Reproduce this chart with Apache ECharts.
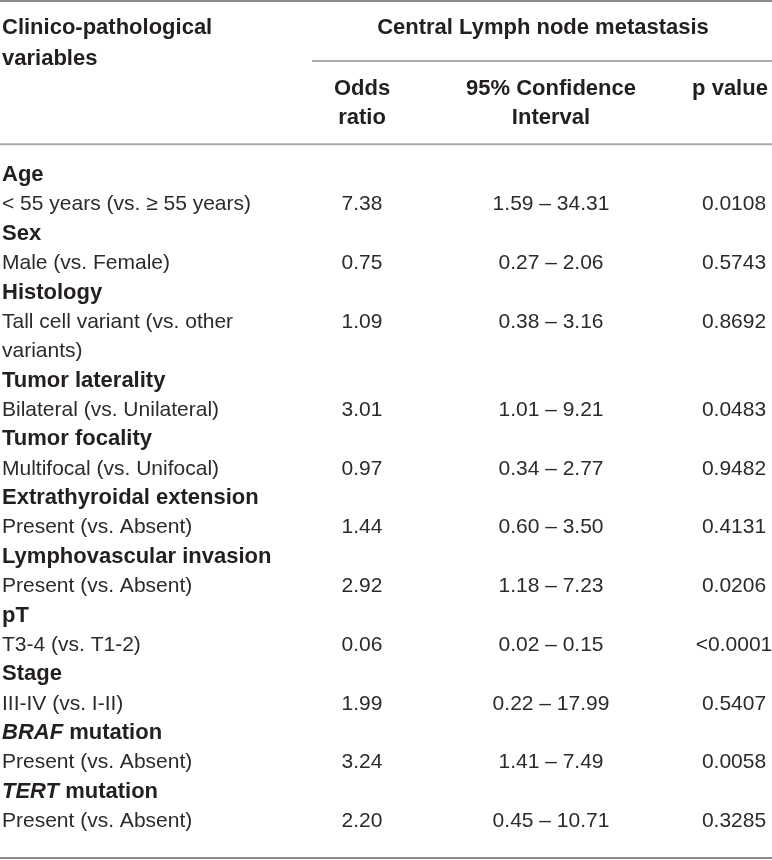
<!DOCTYPE html>
<html style="height: 100%">

<head>
  <meta charset="utf-8">
</head>

<body style="height: 100%; margin: 0; background: #ffffff">
  <div id="container" style="width: 772px; height: 860px"></div>
  <script type="text/javascript" src="https://cdn.jsdelivr.net/npm/echarts@6/dist/echarts.min.js"></script>
  <script type="text/javascript">
    // table content
    var groups = ['Age', 'Sex', 'Histology', 'Tumor laterality', 'Tumor focality',
      'Extrathyroidal extension', 'Lymphovascular invasion', 'pT', 'Stage',
      'BRAF mutation', 'TERT mutation'];
    var comparisons = ['< 55 years (vs. \u2265 55 years)', 'Male (vs. Female)',
      'Tall cell variant (vs. other\nvariants)', 'Bilateral (vs. Unilateral)',
      'Multifocal (vs. Unifocal)', 'Present (vs. Absent)', 'Present (vs. Absent)',
      'T3-4 (vs. T1-2)', 'III-IV (vs. I-II)', 'Present (vs. Absent)', 'Present (vs. Absent)'];
    var oddsRatios = ['7.38', '0.75', '1.09', '3.01', '0.97', '1.44', '2.92', '0.06', '1.99', '3.24', '2.20'];
    var ciLow = ['1.59', '0.27', '0.38', '1.01', '0.34', '0.60', '1.18', '0.02', '0.22', '1.41', '0.45'];
    var ciHigh = ['34.31', '2.06', '3.16', '9.21', '2.77', '3.50', '7.23', '0.15', '17.99', '7.49', '10.71'];
    var pValues = ['0.0108', '0.5743', '0.8692', '0.0483', '0.9482', '0.4131', '0.0206', '<0.0001', '0.5407', '0.0058', '0.3285'];
    var geneNames = ['BRAF', 'TERT'];
    var headFirst = ['Clinico-pathological', 'variables'];
    var headOutcome = 'Central Lymph node metastasis';
    var headColumns = [['Odds', 'ratio'], ['95% Confidence', 'Interval'], ['p value']];

    var FONT = "'Liberation Sans', Arial, Helvetica, sans-serif";
    var INK = '#231f20';
    // where each column sits on the x axis (0..772); headers of the p column sit a bit left
    var colX = [2, 362, 551, 734];
    var headX = [2, 362, 551, 730, 543];

    // build cell list: [col, row] with text + kind, row 0 = first body line
    var cells = [];
    function cell(col, row, text, kind) {
      cells.push({ value: [col, row], text: text, kind: kind });
    }
    cell(0, -5, headFirst[0], 'head');
    cell(0, -3.95, headFirst[1], 'head');
    cell(4, -5, headOutcome, 'head');
    headColumns.forEach(function (lines, i) {
      lines.forEach(function (t, j) { cell(i + 1, -2.92 + j * 0.98, t, 'head'); });
    });
    var row = 0;
    groups.forEach(function (g, i) {
      cell(0, row, g, 'group');
      row++;
      cell(1, row, oddsRatios[i], 'num');
      cell(2, row, ciLow[i] + ' \u2013 ' + ciHigh[i], 'num');
      cell(3, row, pValues[i], 'num');
      comparisons[i].split('\n').forEach(function (t) {
        cell(0, row, t, 'text');
        row++;
      });
    });

    // horizontal rules: [xStart, xEnd, row, kind]
    var rules = [[0, 772, -5.93, 0], [312, 772, -3.88, 1], [0, 772, -1.05, 1], [0, 772, 23.25, 0]];

    function textStyle(c) {
      var bold = c.kind === 'head' || c.kind === 'group';
      var st = {
        text: c.text,
        fontFamily: FONT,
        fontSize: bold ? 22 : 21,
        fontWeight: bold ? 'bold' : 'normal',
        fill: bold ? INK : '#2b2b2b',
        verticalAlign: 'middle',
        align: c.value[0] === 0 ? 'left' : 'center'
      };
      if (c.kind === 'group') {
        geneNames.forEach(function (gn) {
          if (c.text.indexOf(gn + ' ') === 0) {
            st.text = '{g|' + gn + '}{b|' + c.text.slice(gn.length) + '}';
            st.rich = {
              g: { fontFamily: FONT, fontSize: 22, fontWeight: 'bold', fontStyle: 'italic', fill: INK },
              b: { fontFamily: FONT, fontSize: 22, fontWeight: 'bold', fill: INK }
            };
          }
        });
      }
      return st;
    }

    var dom = document.getElementById('container');
    var myChart = echarts.init(dom);
    var option = {
      animation: false,
      backgroundColor: '#ffffff',
      grid: { left: 0, right: 0, top: 0, bottom: 0 },
      xAxis: { type: 'value', min: 0, max: 772, show: false },
      yAxis: { type: 'value', min: -5.96, max: 23.32, inverse: true, show: false },
      series: [{
        type: 'custom',
        name: 'rules',
        clip: false,
        data: rules,
        renderItem: function (params, api) {
          var a = api.coord([api.value(0), api.value(2)]);
          var b = api.coord([api.value(1), api.value(2)]);
          return {
            type: 'line',
            shape: { x1: a[0], y1: a[1], x2: b[0], y2: b[1] },
            style: { stroke: api.value(3) === 0 ? '#8c8c8c' : '#ababab', lineWidth: 2 }
          };
        }
      }, {
        type: 'custom',
        name: 'cells',
        clip: false,
        data: cells.map(function (c) { return c.value; }),
        encode: { x: 0, y: 1 },
        renderItem: function (params, api) {
          var c = cells[params.dataIndex];
          var col = c.value[0];
          var x = c.kind === 'head' ? headX[col] : colX[col];
          var p = api.coord([x, api.value(1)]);
          return { type: 'text', x: p[0], y: p[1], style: textStyle(c) };
        }
      }]
    };
    myChart.setOption(option);
  </script>
</body>

</html>
